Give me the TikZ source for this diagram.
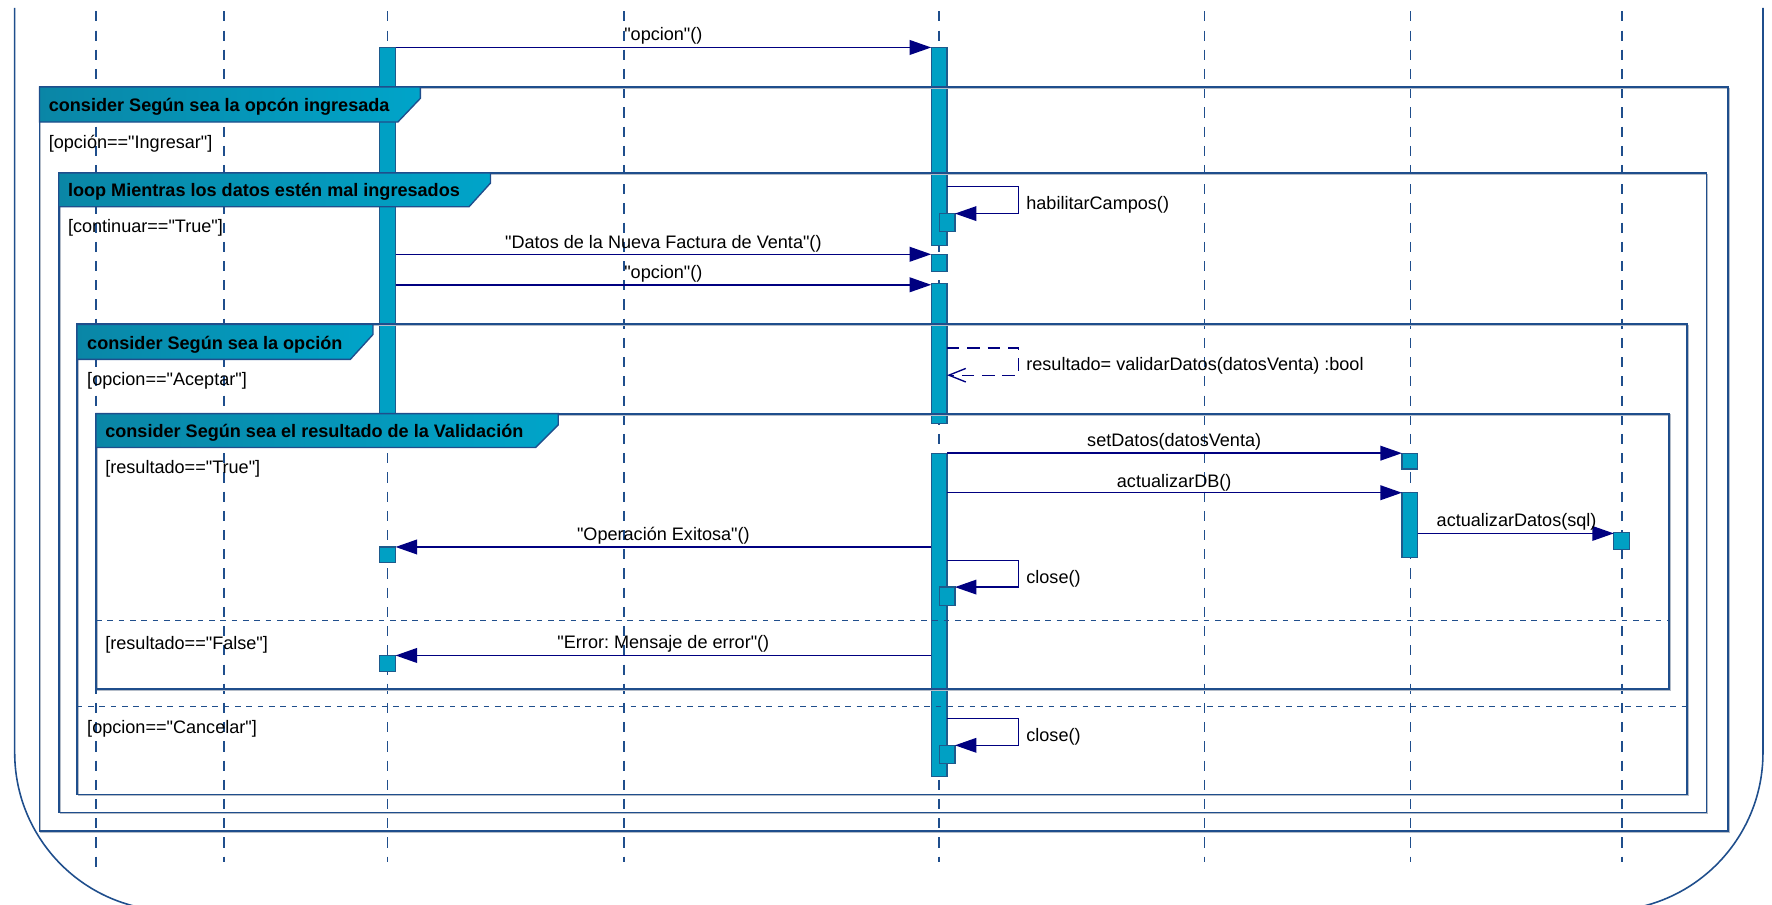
\documentclass[tikz,border=0pt]{standalone}
\usepackage{fontspec}
\setmainfont{Liberation Sans}[Ligatures=TeXOff]
\usetikzlibrary{arrows.meta,calc}
\definecolor{lifeblue}{HTML}{1F4E8C}
\definecolor{navy}{HTML}{000080}
\definecolor{barfill}{HTML}{00A0C4}
\definecolor{barline}{HTML}{1E5A8C}
\definecolor{hdrL}{HTML}{0A86A6}
\definecolor{hdrR}{HTML}{00A4C9}
\definecolor{shadowgray}{HTML}{B4BCC8}
\newcommand\actbox[5]{\node[actbar, minimum width=#4pt, minimum height=#5pt, anchor=north west] (#1) at (#2,#3) {};}
\frenchspacing
\begin{document}
\begin{tikzpicture}[x=1pt,y=-1pt,
  lifeline/.style={draw=lifeblue, line width=1.4pt, dash pattern=on 9pt off 8pt},
  actbar/.style={draw=barline, fill=barfill, line width=1.1pt, inner sep=0pt, outer sep=0pt},
  msg/.style={draw=navy, line width=1.3pt, -{Triangle[length=19pt,width=13pt]}},
  selfmsg/.style={draw=navy, line width=1.1pt, -{Triangle[length=19pt,width=13pt]}},
  retmsg/.style={draw=navy, line width=1.2pt, dash pattern=on 11pt off 7pt, -{Straight Barb[length=15pt,width=12pt,line width=1.2pt]}},
  lbl/.style={font=\fontsize{16}{19}\selectfont, inner sep=0pt, text=black},
  hdrlbl/.style={font=\fontsize{16}{19}\selectfont\bfseries, inner sep=0pt, text=black, anchor=base west},
  guard/.style={font=\fontsize{16}{19}\selectfont, inner sep=0pt, text=black, anchor=base west},
  frameline/.style={draw=lifeblue, line width=1.6pt},
  frameshadow/.style={draw=shadowgray, line width=1pt},
  sep/.style={draw=lifeblue, line width=1.3pt, dash pattern=on 5pt off 5pt},
  hdrshade/.style={left color=hdrL, right color=hdrR},
  hdredge/.style={draw=lifeblue, line width=1.2pt}
]
\useasboundingbox (0,0) rectangle (1568,800);

% outer rounded frame
\draw[lifeblue, line width=1.4pt, rounded corners=140pt] (13,7) -- (13,806) -- (1560,806) -- (1560,7);

% lifelines
\foreach \n/\x/\b in {1/85/767,2/198/763,3/343/763,4/552/763,5/831/763,6/1066/763,7/1248/763,8/1435/763}{
  \coordinate (LT\n) at (\x,10);
  \coordinate (LB\n) at (\x,\b);
  \draw[lifeline] (LT\n) -- (LB\n);
}

% activation bars
\actbox{A3}{336}{42}{14}{324}
\actbox{B3a}{336}{484}{14}{14}
\actbox{B3b}{336}{580}{14}{14}
\actbox{A5a}{824}{42}{14}{175}
\actbox{S5a}{831}{189}{14}{16}
\actbox{A5b}{824}{225}{14}{15}
\actbox{A5c}{824}{251}{14}{124}
\actbox{A5d}{824}{401}{14}{286}
\actbox{S5b}{831}{519.5}{14}{16}
\actbox{S5c}{831}{659.5}{14}{16}
\actbox{A7a}{1240.5}{401}{14}{14}
\actbox{A7b}{1240.5}{436}{14}{57}
\actbox{A8}{1428}{471}{14}{15}

% frames
\draw[frameshadow] (36.2,78.2) rectangle (1530.2,736.2);
\draw[frameline] (35,77) rectangle (1529,735);
\shade[hdrshade] (35,77) -- (372,77) -- (372,87) -- (352,108) -- (35,108) -- cycle;
\draw[hdredge] (35,77) -- (372,77) -- (372,87) -- (352,108) -- (35,108) -- cycle;
\node[hdrlbl] (h1) at (43,99) {consider Según sea la opcón ingresada};
\node[guard] (g1) at (43,131) {[opción=="Ingresar"]};

\draw[frameshadow] (53.2,154.2) rectangle (1511.2,720.2);
\draw[frameline] (52,153) rectangle (1510,719);
\shade[hdrshade] (52,153) -- (434,153) -- (434,162) -- (415,183) -- (52,183) -- cycle;
\draw[hdredge] (52,153) -- (434,153) -- (434,162) -- (415,183) -- (52,183) -- cycle;
\node[hdrlbl] (h2) at (60,174) {loop Mientras los datos estén mal ingresados};
\node[guard] (g2) at (60,206) {[continuar=="True"]};

\draw[frameshadow] (69.2,288.2) rectangle (1494.2,704.2);
\draw[frameline] (68,287) rectangle (1493,703);
\shade[hdrshade] (68,287) -- (330,287) -- (330,296) -- (310,318) -- (68,318) -- cycle;
\draw[hdredge] (68,287) -- (330,287) -- (330,296) -- (310,318) -- (68,318) -- cycle;
\node[hdrlbl] (h3) at (77,309.5) {consider Según sea la opción};
\node[guard] (g3) at (77,341) {[opcion=="Aceptar"]};
\coordinate (s3a) at (68,625);
\coordinate (s3b) at (1493,625);
\draw[sep] (s3a) -- (s3b);
\node[guard] (g5) at (77,649) {[opcion=="Cancelar"]};

\draw[frameshadow] (86.2,367.2) rectangle (1478.2,611.2);
\draw[frameline] (85,366) rectangle (1477,610);
\shade[hdrshade] (85,366) -- (494,366) -- (494,376) -- (474,396) -- (85,396) -- cycle;
\draw[hdredge] (85,366) -- (494,366) -- (494,376) -- (474,396) -- (85,396) -- cycle;
\node[hdrlbl] (h4) at (93,387) {consider Según sea el resultado de la Validación};
\node[guard] (g4) at (93,419) {[resultado=="True"]};
\coordinate (s4a) at (85,549);
\coordinate (s4b) at (1477,549);
\draw[sep] (s4a) -- (s4b);
\node[guard] (g6) at (93,575) {[resultado=="False"]};

% messages
\draw[msg] (A3.east |- 0,42) -- (A5a.west |- 0,42);
\node[lbl, anchor=base] (m1) at (587,36) {"opcion"()};

\draw[selfmsg] (A5a.east |- 0,165) -- (901,165) -- (901,189) -- (S5a.north east);
\node[lbl, anchor=base west] (m2) at (908,185) {habilitarCampos()};

\draw[msg] (A3.east |- 0,225) -- (A5b.west |- 0,225);
\node[lbl, anchor=base] (m3) at (587,219.5) {"Datos de la Nueva Factura de Venta"()};

\draw[msg] (A3.east |- 0,252) -- (A5c.west |- 0,252);
\node[lbl, anchor=base] (m4) at (587,246) {"opcion"()};

\draw[retmsg] (A5c.east |- 0,308) -- (901,308) -- (901,332) -- (A5c.east |- 0,332);
\node[lbl, anchor=base west] (m5) at (908,328) {resultado= validarDatos(datosVenta) :bool};

\draw[msg] (A5d.east |- 0,401) -- (A7a.west |- 0,401);
\node[lbl, anchor=base] (m6) at (1039,395) {setDatos(datosVenta)};

\draw[msg] (A5d.east |- 0,436) -- (A7b.west |- 0,436);
\node[lbl, anchor=base] (m7) at (1039,431.5) {actualizarDB()};

\draw[msg] (A7b.east |- 0,472) -- (A8.west |- 0,472);
\node[lbl, anchor=base] (m8) at (1342,466) {actualizarDatos(sql)};

\draw[msg] (A5d.west |- 0,484) -- (B3a.north east);
\node[lbl, anchor=base] (m9) at (587,478.5) {"Operación Exitosa"()};

\draw[selfmsg] (A5d.east |- 0,496) -- (901,496) -- (901,519.5) -- (S5b.north east);
\node[lbl, anchor=base west] (m10) at (908,516) {close()};

\draw[msg] (A5d.west |- 0,580) -- (B3b.north east);
\node[lbl, anchor=base] (m11) at (587,574) {"Error: Mensaje de error"()};

\draw[selfmsg] (A5d.east |- 0,635.5) -- (901,635.5) -- (901,659.5) -- (S5c.north east);
\node[lbl, anchor=base west] (m12) at (908,656) {close()};
\end{tikzpicture}
\end{document}
